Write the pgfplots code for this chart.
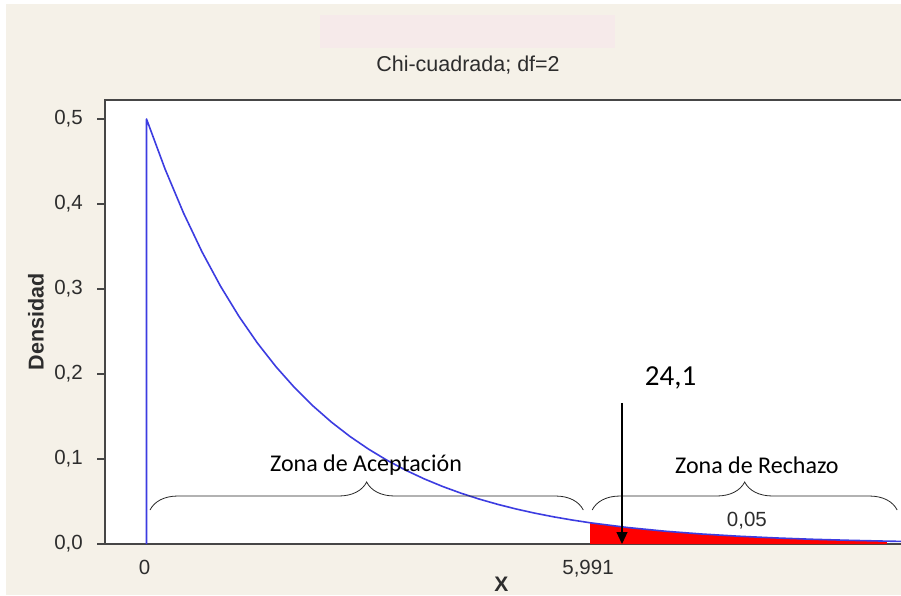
\documentclass[border=0pt]{standalone}
\usepackage{pgfplots}
\pgfplotsset{compat=1.18}
\usepackage{fontspec}
\setmainfont{Liberation Sans}
\newfontfamily\calibri{Carlito}
\usetikzlibrary{decorations.pathreplacing,arrows.meta}
\definecolor{bgc}{RGB}{245,241,232}
\definecolor{pinkbox}{RGB}{246,234,234}
\definecolor{curveblue}{RGB}{60,60,225}
\definecolor{axisgray}{RGB}{70,70,70}
\definecolor{txt}{RGB}{45,45,45}
\begin{document}
\begin{tikzpicture}[x=1pt,y=1pt]
\useasboundingbox (0,0) rectangle (901,595);
\fill[bgc] (0,0) rectangle (901,595);
\fill[white] (0,0) rectangle (6,595);
\fill[white] (0,591) rectangle (901,595);
\fill[pinkbox] (320,547) rectangle (615,580);
\node[font=\fontsize{21.5}{24}\selectfont, text=txt] at (468,530) {Chi-cuadrada; df=2};
\begin{axis}[
  at={(105pt,51pt)}, anchor=south west,
  scale only axis, width=800pt, height=444pt,
  xmin=-0.561, xmax=10.246, ymin=0, ymax=0.5224,
  axis background/.style={fill=white},
  axis line style={line width=1.6pt, draw=axisgray},
  clip=false,
  xtick={0,5.991}, xticklabels={0,{5,991}},
  ytick={0,0.1,0.2,0.3,0.4,0.5},
  yticklabels={{0,0},{0,1},{0,2},{0,3},{0,4},{0,5}},
  ytick pos=left, xtick pos=bottom,
  tick align=outside,
  x tick style={draw=none},
  y tick style={line width=1.4pt, draw=axisgray},
  major tick length=8pt,
  tick label style={font=\fontsize{20.5}{22}\selectfont, text=txt},
  xticklabel style={anchor=north, inner sep=0pt, yshift=-8pt, xshift=-2pt},
  yticklabel style={anchor=east, inner sep=0pt, xshift=-14pt},
  xlabel={X}, ylabel={Densidad},
  xlabel style={font=\bfseries\fontsize{21}{23}\selectfont, text=txt, at={(axis description cs:0.4956,-0.0912)}, anchor=center},
  ylabel style={font=\bfseries\fontsize{21.5}{23}\selectfont, text=txt, at={(axis description cs:-0.0863,0.5)}, anchor=center},
]
% rejection area
\addplot[fill=red, draw=none] coordinates {
(5.991,0) (5.991,0.02500) (6,0.02489) (6.5,0.01939) (7,0.01510) (7.5,0.01176) (8,0.00916) (8.5,0.00713) (9,0.00555) (9.5,0.00433) (10,0.00337) (10,0)
} -- cycle;
% density curve
\addplot[curveblue, line width=1.6pt, line join=round] coordinates {
(0,0) (0,0.5) (0.25,0.44125) (0.5,0.38940) (0.75,0.34364) (1,0.30327) (1.25,0.26763) (1.5,0.23618) (1.75,0.20843) (2,0.18394) (2.25,0.16233) (2.5,0.14325) (2.75,0.12642) (3,0.11157) (3.25,0.09846) (3.5,0.08689) (3.75,0.07668) (4,0.06767) (4.25,0.05972) (4.5,0.05270) (4.75,0.04651) (5,0.04104) (5.25,0.03622) (5.5,0.03196) (5.75,0.02821) (5.991,0.02500) (6,0.02489) (6.5,0.01939) (7,0.01510) (7.5,0.01176) (8,0.00916) (8.5,0.00713) (9,0.00555) (9.5,0.00433) (10,0.00337) (10.246,0.0030)
};
% braces
\draw[black!85, line width=0.8pt, decorate, decoration={brace, amplitude=28pt}] (axis cs:0.047,0.040) -- (axis cs:5.90,0.040);
\draw[black!85, line width=0.8pt, decorate, decoration={brace, amplitude=28pt}] (axis cs:6.02,0.040) -- (axis cs:10.14,0.040);
\node[font=\calibri\fontsize{24}{26}\selectfont] at (axis cs:2.965,0.093) {Zona de Aceptación};
\node[font=\calibri\fontsize{24}{26}\selectfont] at (axis cs:8.245,0.093) {Zona de Rechazo};
\node[font=\fontsize{20.5}{22}\selectfont, text=txt] at (axis cs:8.11,0.027) {0,05};
% arrow
\draw[black, line width=1.1pt, -{Triangle[width=11pt,length=12pt]}] (axis cs:6.423,0.166) -- (axis cs:6.423,0.0);
\node[font=\calibri\fontsize{29}{31}\selectfont] at (axis cs:7.08,0.195) {24,1};
\end{axis}
\end{tikzpicture}
\end{document}
